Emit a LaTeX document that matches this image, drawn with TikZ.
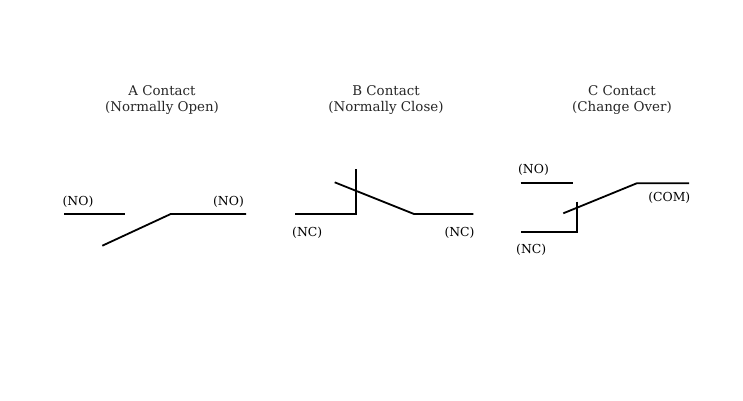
\documentclass[tikz,border=0pt]{standalone}
\usepackage{fontspec}
\setmainfont{DejaVu Serif}
\begin{document}
\begin{tikzpicture}[x=1pt,y=-1pt,
  wire/.style={line width=1.8pt,line cap=butt},
  ttl/.style={font=\fontsize{13.4}{15}\selectfont, text=black!85, align=center, inner sep=0pt},
  lbl/.style={font=\fontsize{12.4}{14}\selectfont, inner sep=0pt}]
\useasboundingbox (0,0) rectangle (743,400);
% titles
\node[ttl] (ta1) at (162,90.7) {A Contact};
\node[ttl] (ta2) at (162,108.3) {(Normally Open)};
\node[ttl] (tb1) at (386,90.7) {B Contact};
\node[ttl] (tb2) at (386,108.3) {(Normally Close)};
\node[ttl] (tc1) at (622,90.7) {C Contact};
\node[ttl] (tc2) at (622,108.3) {(Change Over)};
% A contact
\coordinate (a1) at (64,214);
\coordinate (a2) at (125,214);
\coordinate (a3) at (170.7,214);
\coordinate (a4) at (246,214);
\coordinate (a5) at (102.3,245.7);
\draw[wire] (a1) -- (a2);
\draw[wire] (a4) -- (a3) -- (a5);
\node[lbl] (la1) at (78,201.7) {(NO)};
\node[lbl] (la2) at (228.5,201.7) {(NO)};
% B contact
\coordinate (b1) at (295,214);
\coordinate (b2) at (356,214);
\coordinate (b3) at (356,169.3);
\coordinate (b4) at (334.7,182.3);
\coordinate (b5) at (414,214);
\coordinate (b6) at (473.3,214);
\draw[wire] (b1) -- (b2) -- (b3);
\draw[wire] (b4) -- (b5) -- (b6);
\node[lbl] (lb1) at (307.2,232.3) {(NC)};
\node[lbl] (lb2) at (459.5,232.3) {(NC)};
% C contact
\coordinate (c1) at (520.7,183.3);
\coordinate (c2) at (572.7,183.3);
\coordinate (c3) at (636.7,183.3);
\coordinate (c4) at (689,183.3);
\coordinate (c5) at (563.3,213.3);
\coordinate (c6) at (577.3,201.7);
\coordinate (c7) at (577.3,232.3);
\coordinate (c8) at (520.7,232.3);
\draw[wire] (c1) -- (c2);
\draw[wire] (c4) -- (c3) -- (c5);
\draw[wire] (c6) -- (c7) -- (c8);
\node[lbl] (lc1) at (533.5,170) {(NO)};
\node[lbl] (lc2) at (669.3,197.3) {(COM)};
\node[lbl] (lc3) at (531.2,249.3) {(NC)};
\end{tikzpicture}
\end{document}
